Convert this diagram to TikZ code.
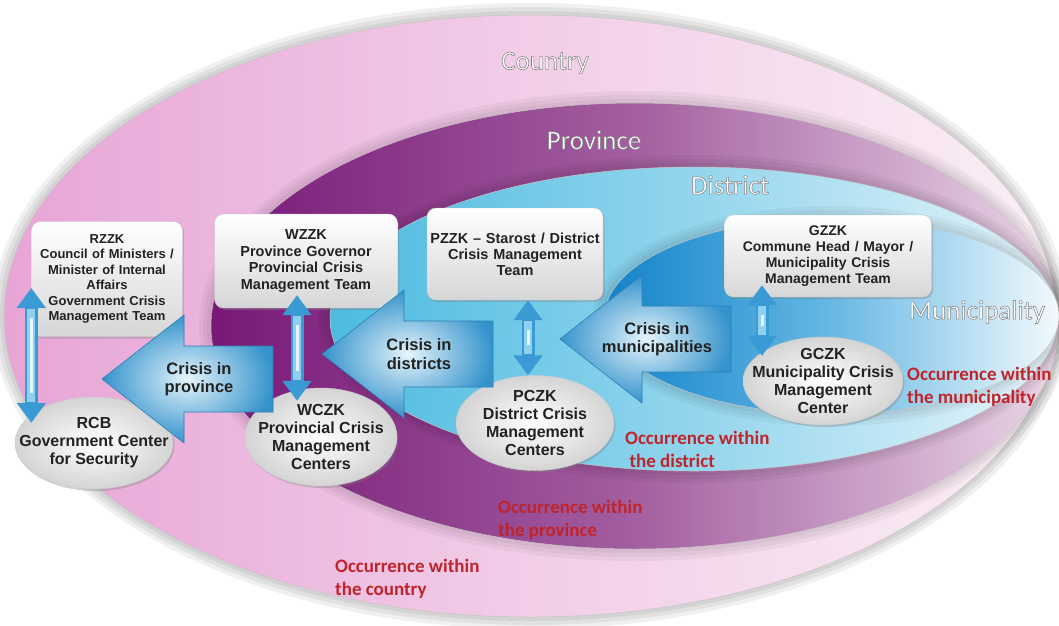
\documentclass[tikz,border=0pt]{standalone}
\usepackage{fontspec}
\setmainfont{Liberation Sans}
\newfontfamily\calibri{Carlito}
\usetikzlibrary{arrows.meta,positioning,shapes.geometric,shadows,calc}

\definecolor{cCtyL}{HTML}{E7A5D6}
\definecolor{cCtyM}{HTML}{F2CDE8}
\definecolor{cCtyR}{HTML}{FAEFF6}
\definecolor{cProvL}{HTML}{781877}
\definecolor{cProvM}{HTML}{A35FA0}
\definecolor{cProvR}{HTML}{EAD6E6}
\definecolor{cDistL}{HTML}{4CBBE0}
\definecolor{cDistM}{HTML}{93D5ED}
\definecolor{cDistR}{HTML}{E6F5FB}
\definecolor{cMunL}{HTML}{1183CA}
\definecolor{cMunM}{HTML}{67B8E3}
\definecolor{cMunR}{HTML}{F2F9FD}
\definecolor{cArrIn}{HTML}{E4F4FB}
\definecolor{cArrOut}{HTML}{3593CC}
\definecolor{cArrEdge}{HTML}{2B7FB4}
\definecolor{cDbl}{HTML}{3A9AD3}
\definecolor{cDblMid}{HTML}{8FD0EF}
\definecolor{cDblHi}{HTML}{E6F6FD}
\definecolor{cBoxB}{HTML}{D6D6D6}
\definecolor{cEllO}{HTML}{D4D4D4}
\definecolor{cInk}{HTML}{222222}
\definecolor{cRed}{HTML}{C0242B}

% blurred rim under an area
\newcommand\softshadow[4]{%
  \foreach \d in {12,8,4}
    \fill[black,opacity=#4] (#1) ellipse [x radius=#2+\d, y radius=#3+\d];}
% white name of an area, glyphs stroked in grey
\newcommand\zonelabel[3]{%
  \node[zone] (#1) at (#2)
    {\special{pdf:literal direct 0.5 G 2 Tr 0.55 w}#3\special{pdf:literal direct 0 Tr 0.3985 w}};}
% big block arrow pointing left, tip at #2
\newcommand\crisisarrow[3]{%
  \shade[crisis] (#2) -- ++(82,-64) -- ++(0,31) -- ++(89,0) -- ++(0,66)
    -- ++(-89,0) -- ++(0,31) -- cycle;
  \node[crisislbl] (#1) at ($(#2)+(97,0)$) {#3};}

\begin{document}
\begin{tikzpicture}[x=1pt,y=-1pt,font=\bfseries,
  area/.style={draw=gray!45,line width=.5pt},
  box/.style={rectangle,rounded corners=9pt,draw=gray!45,top color=white,
    bottom color=cBoxB,align=center,text=cInk,inner sep=3pt,
    drop shadow={opacity=.35,shadow xshift=1.5pt,shadow yshift=-2pt}},
  centre/.style={ellipse,draw=gray!40,inner color=white,outer color=cEllO,
    align=center,text=cInk,inner xsep=-20pt,inner ysep=-8pt,
    font=\bfseries\fontsize{16}{18}\selectfont,
    drop shadow={opacity=.35,shadow xshift=1.5pt,shadow yshift=-2pt}},
  zone/.style={font=\calibri\mdseries\fontsize{27}{30}\selectfont,text=white,inner sep=0pt},
  crisis/.style={draw=cArrEdge,line width=.6pt,inner color=cArrIn,outer color=cArrOut},
  crisislbl/.style={align=center,text=cInk,inner sep=0pt,
    font=\bfseries\fontsize{16.5}{18.5}\selectfont},
  updown/.style={line width=13pt,draw=cDbl,
    {Triangle[width=28pt,length=20pt]}-{Triangle[width=28pt,length=20pt]},
    postaction={draw=cDblMid,line width=8pt,-,shorten <=21pt,shorten >=21pt},
    postaction={draw=cDblHi,line width=3pt,-,shorten <=30pt,shorten >=30pt}},
  occur/.style={font=\calibri\bfseries\fontsize{19}{23}\selectfont,text=cRed,
    align=left,anchor=west,inner sep=0pt}]
\useasboundingbox (0,0) rectangle (1059,625);
\fill[white] (0,0) rectangle (1059,625);

% nested areas, country down to municipality
\softshadow{530,316}{526}{301}{.06}
\shade[area,left color=cCtyL,right color=cCtyR,middle color=cCtyM]
  (530,316) ellipse [x radius=526, y radius=301];
\softshadow{635,326}{424}{223}{.04}
\shade[area,left color=cProvL,right color=cProvR,middle color=cProvM]
  (635,326) ellipse [x radius=424, y radius=223];
\softshadow{694,319}{364}{152}{.04}
\shade[area,left color=cDistL,right color=cDistR,middle color=cDistM]
  (694,319) ellipse [x radius=364, y radius=152];
\softshadow{832,316}{227}{98}{.04}
\shade[area,left color=cMunL,right color=cMunR,middle color=cMunM]
  (832,316) ellipse [x radius=227, y radius=98];

\zonelabel{country}{545,63}{Country}
\zonelabel{province}{594,140}{Province}
\zonelabel{district}{730,185}{District}
\zonelabel{municipality}{977,312}{Municipality}

% teams
\node[box,minimum width=151pt,minimum height=115pt,text width=143pt,
  font=\bfseries\fontsize{13}{15.5}\selectfont] (rzzk) at (107,279)
  {RZZK\\Council of Ministers /\\Minister of Internal\\Affairs\\Government Crisis\\Management Team};
\node[box,minimum width=183pt,minimum height=94pt,text width=175pt,
  font=\bfseries\fontsize{14.5}{16.5}\selectfont] (wzzk) at (306,261)
  {WZZK\\Province Governor\\Provincial Crisis\\Management Team};
\node[box,minimum width=176pt,minimum height=92pt,text width=170pt,
  font=\bfseries\fontsize{14.5}{16}\selectfont] (pzzk) at (515,254)
  {PZZK -- Starost / District\\Crisis Management\\Team};
\node[box,minimum width=207pt,minimum height=82pt,text width=199pt,
  font=\bfseries\fontsize{14}{16}\selectfont] (gzzk) at (828,256)
  {GZZK\\Commune Head / Mayor /\\Municipality Crisis\\Management Team};

% centres
\node[centre,minimum width=158pt,minimum height=92pt] (rcb) at (94,443)
  {RCB\\Government Center\\for Security};
\node[centre,minimum width=152pt,minimum height=98pt] (wczk) at (321,437)
  {WCZK\\Provincial Crisis\\Management\\Centers};
\node[centre,minimum width=158pt,minimum height=95pt] (pczk) at (535,423)
  {PCZK\\District Crisis\\Management\\Centers};
\node[centre,minimum width=160pt,minimum height=88pt] (gczk) at (823,381)
  {GCZK\\Municipality Crisis\\Management\\Center};

% escalation
\crisisarrow{toprov}{102,379}{Crisis in\\province}
\crisisarrow{todist}{322,354}{Crisis in\\districts}
\crisisarrow{tomun}{560,339}{Crisis in\\municipalities}

% team <-> centre
\draw[updown] ([yshift=-9pt]rzzk.west) -- ([yshift=-26pt]rzzk.west |- rcb.north);
\draw[updown] ([xshift=-9pt,yshift=13pt]wzzk.south)
  -- ([xshift=-9pt,yshift=-13pt]wzzk.south |- wczk.north);
\draw[updown] ([xshift=13pt]pzzk.south) -- ([xshift=13pt]pzzk.south |- pczk.north);
\draw[updown] ([xshift=-66pt,yshift=12pt]gzzk.south)
  -- ([xshift=-66pt,yshift=-19pt]gzzk.south |- gczk.north);

\node[occur] (occmun) at (907,387) {Occurrence within\\the municipality};
\node[occur] (occdist) at (625,449) {Occurrence within\\\ the district};
\node[occur] (occprov) at (498,520) {Occurrence within\\the province};
\node[occur] (occcty) at (335,579) {Occurrence within\\the country};
\end{tikzpicture}
\end{document}
